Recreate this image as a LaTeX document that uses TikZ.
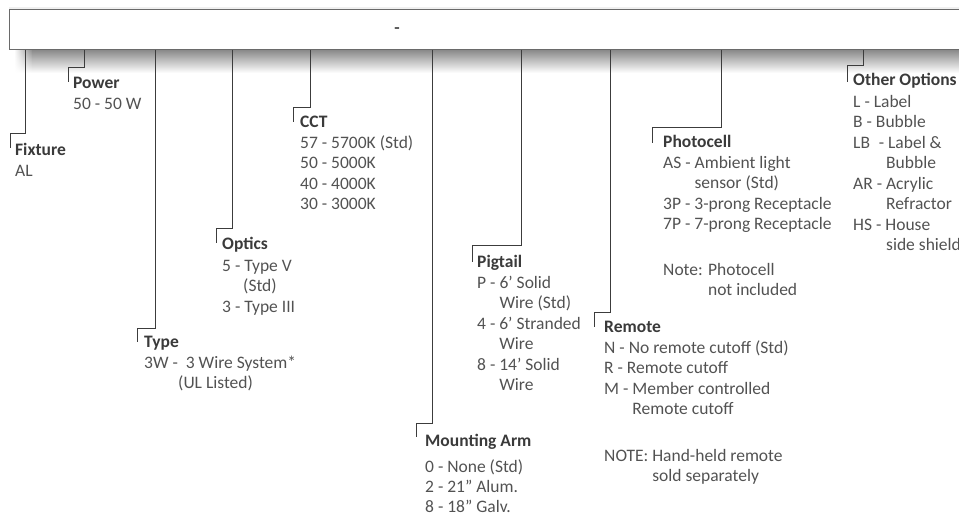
\documentclass[tikz,border=0pt]{standalone}
\usepackage{fontspec}
\setmainfont{Carlito}
\usetikzlibrary{fadings}
\definecolor{txt}{HTML}{525252}
\definecolor{ttl}{HTML}{3A3A3A}
\definecolor{ln}{HTML}{3C3C3C}
\definecolor{boxln}{HTML}{6A6A6A}
\tikzfading[name=fadeleft, left color=transparent!100, right color=transparent!0]
\newcommand{\blk}[2]{\begin{tabular}[t]{@{}l@{}}\textbf{\color{ttl}#1}#2\end{tabular}}
\begin{document}
\begin{tikzpicture}[x=1pt,y=-1pt,
  conn/.style={draw=ln, line width=0.9pt},
  lbl/.style={anchor=base west, inner sep=0pt, text=txt,
    font=\fontsize{17.5}{20.5}\selectfont}]
\useasboundingbox (0,0) rectangle (959,518);
% shadow under the bar
\shade[top color=black!48, middle color=black!14, bottom color=white] (32,49) rectangle (959,73);
\shade[top color=black!48, middle color=black!14, bottom color=white, path fading=fadeleft] (14,49) rectangle (32.5,73);
\fill[black!6] (9,7) rectangle (959,9);
% bar
\node[draw=boxln, line width=0.8pt, fill=white, anchor=north west, minimum width=965, minimum height=40, inner sep=0pt] (bar) at (9,9) {};
\node[lbl, anchor=center] (dash) at (397,31) {\textbf{-}};
% blocks
\node[lbl] (fixture) at (15,156) {\blk{Fixture}{\\ AL}};
\node[lbl] (power) at (73,89) {\blk{Power}{\\ 50 - 50 W}};
\node[lbl] (type) at (144,348) {\blk{Type}{\\ 3W -\ \ 3 Wire System*\\ \hspace*{34pt}(UL Listed)}};
\node[lbl] (optics) at (222,250) {\blk{Optics}{\\[1pt] 5 - Type V\\ \hspace*{21pt}(Std)\\ 3 - Type III}};
\node[lbl] (cct) at (300,128) {\blk{CCT}{\\ 57 - 5700K (Std)\\ 50 - 5000K\\ 40 - 4000K\\ 30 - 3000K}};
\node[lbl] (arm) at (425,447) {\blk{Mounting Arm}{\\[4.5pt] 0 - None (Std)\\ 2 - 21” Alum.\\ 8 - 18” Galv.}};
\node[lbl] (pigtail) at (477,268) {\blk{Pigtail}{\\ P - 6’ Solid\\ \phantom{P - }Wire (Std)\\ 4 - 6’ Stranded\\ \phantom{4 - }Wire\\ 8 - 14’ Solid\\ \phantom{8 - }Wire}};
\node[lbl] (remote) at (604,333) {\blk{Remote}{\\ N - No remote cutoff (Std)\\ R - Remote cutoff\\ M - Member controlled\\ \phantom{M - }Remote cutoff\\[26pt] NOTE: Hand-held remote\\ \phantom{NOTE: }sold separately}};
\node[lbl] (photo) at (663,148) {\blk{Photocell}{\\[0pt] AS - Ambient light\\ \phantom{AS - }sensor (Std)\\ 3P - 3-prong Receptacle\\ 7P - 7-prong Receptacle\\[25pt] Note: Photocell\\ \phantom{Note: }not included}};
\node[lbl] (other) at (853,86) {\blk{Other Options}{\\[1pt] L - Label\\ B - Bubble\\ LB\hspace{0.5em}- Label \&\\ \hspace*{33pt}Bubble\\ AR - Acrylic\\ \hspace*{33pt}Refractor\\ HS - House\\ \hspace*{33pt}side shield}};
% connectors
\draw[conn] (bar.south -| 25,0) -- (25,133) -- (10,133) -- (10,148);
\draw[conn] (bar.south -| 84,0) -- (84,67) -- (68,67) -- (68,82);
\draw[conn] (bar.south -| 155,0) -- (155,328) -- (137,328) -- (137,342);
\draw[conn] (bar.south -| 232,0) -- (232,228) -- (216,228) -- (216,243);
\draw[conn] (bar.south -| 310,0) -- (310,107) -- (293,107) -- (293,122);
\draw[conn] (bar.south -| 432,0) -- (432,423) -- (416,423) -- (416,437);
\draw[conn] (bar.south -| 521,0) -- (521,245) -- (472,245) -- (472,262);
\draw[conn] (bar.south -| 610,0) -- (610,312) -- (594,312) -- (594,327);
\draw[conn] (bar.south -| 721,0) -- (721,127) -- (652,127) -- (652,143);
\draw[conn] (bar.south -| 863,0) -- (863,65) -- (847,65) -- (847,82);
\end{tikzpicture}
\end{document}
